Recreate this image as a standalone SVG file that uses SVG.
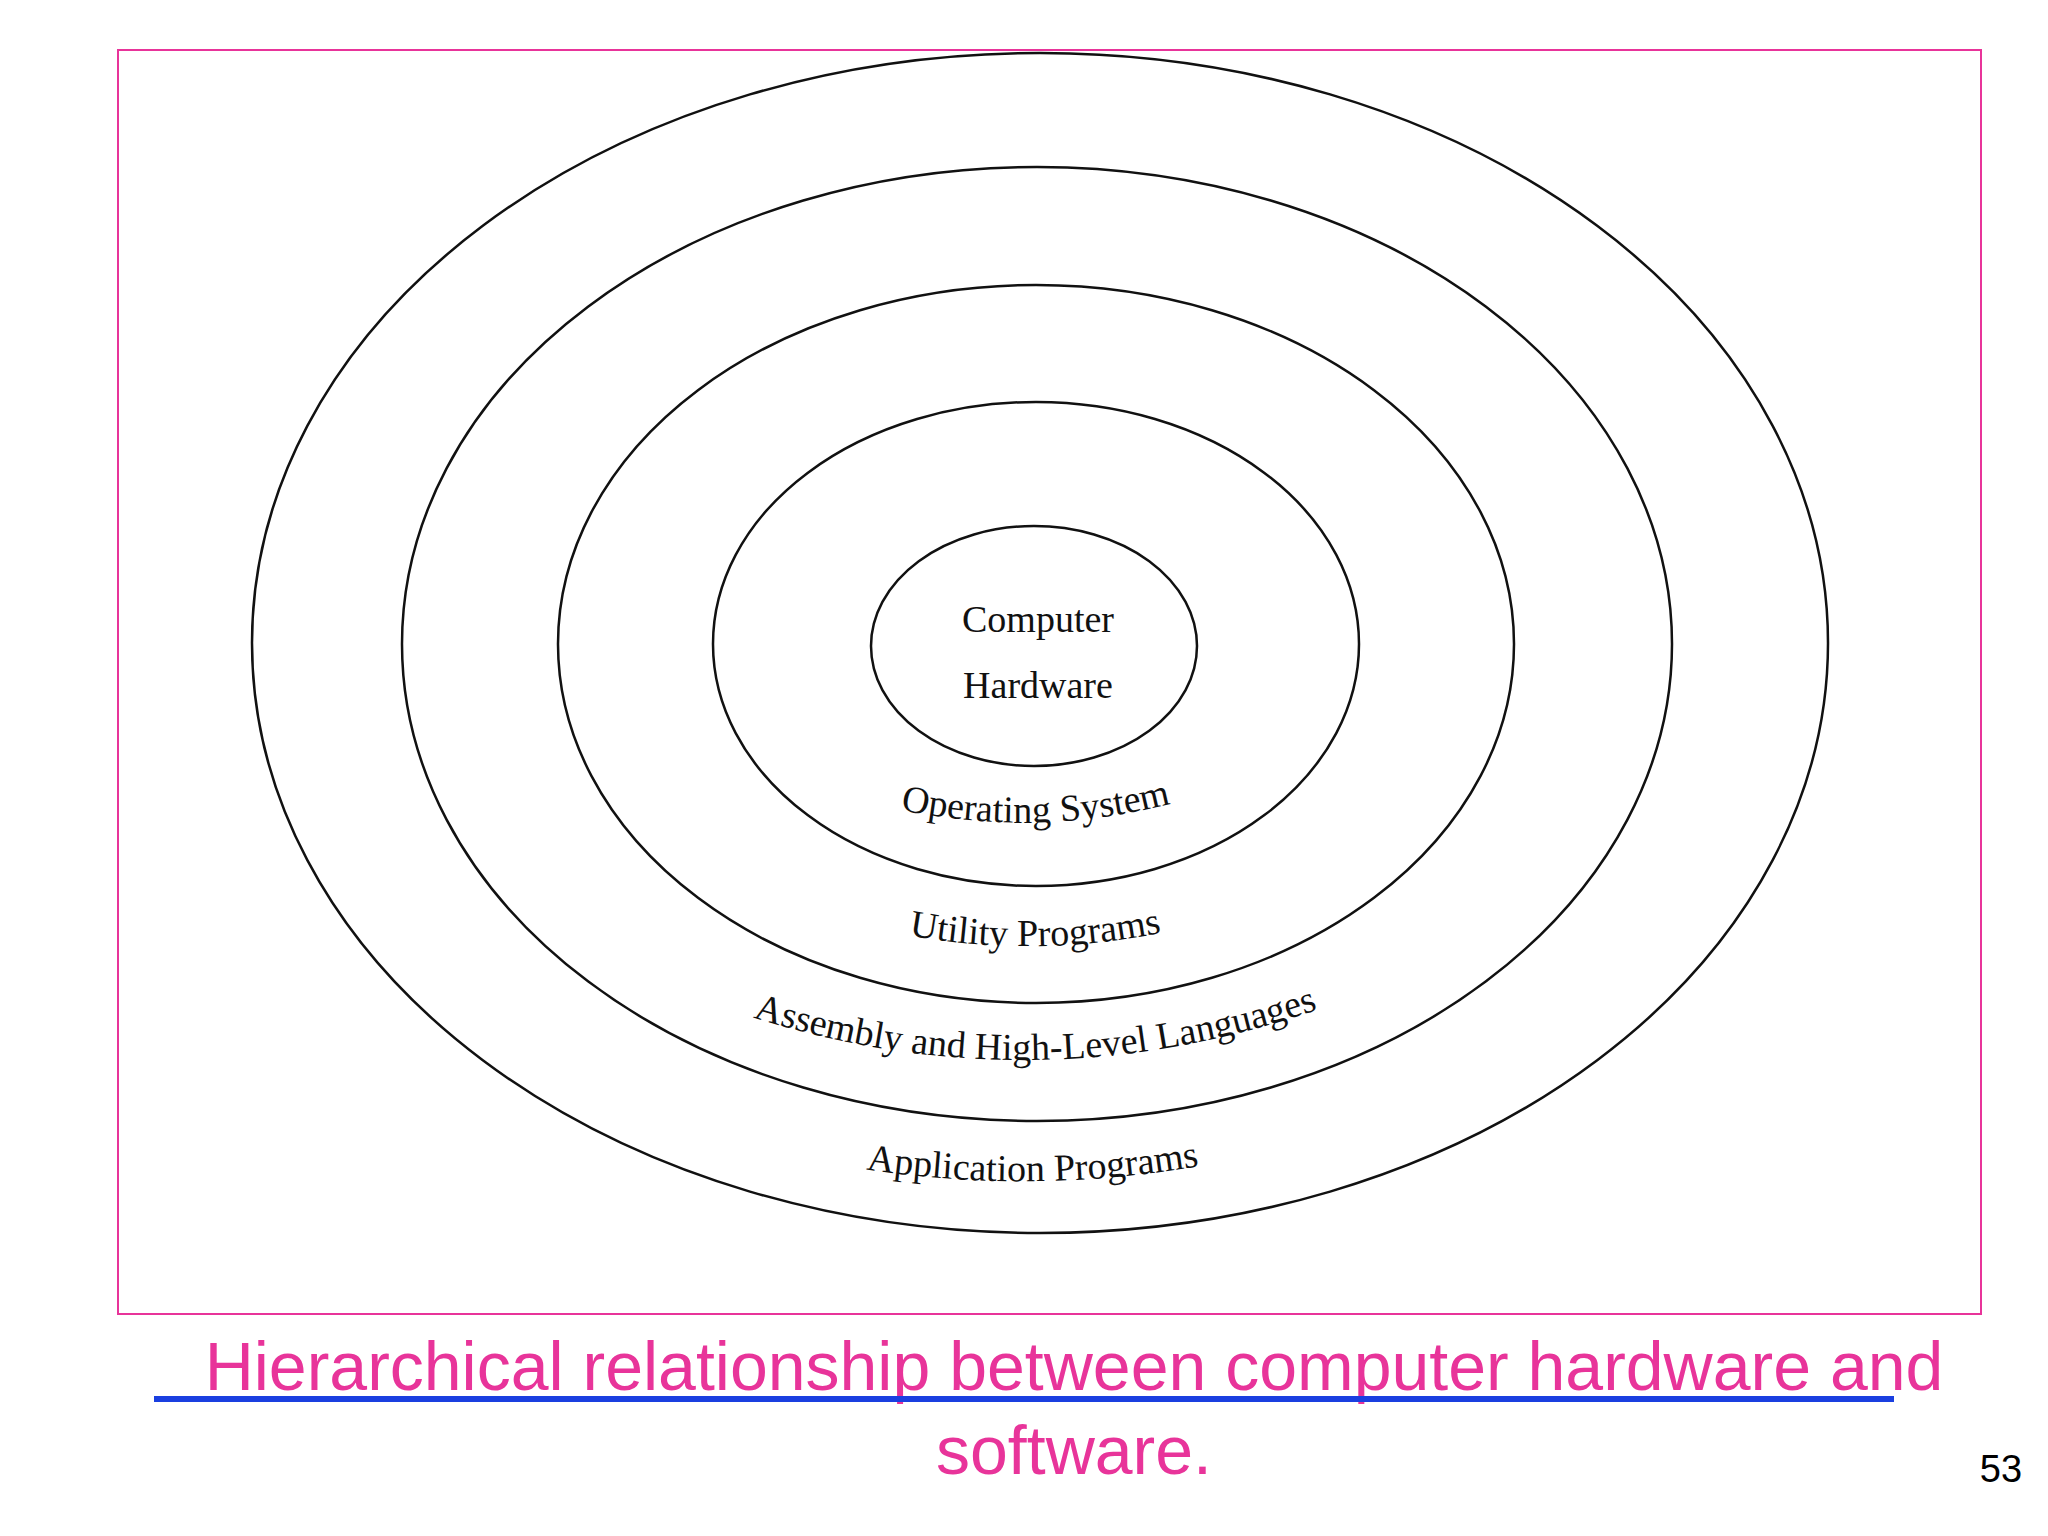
<svg xmlns="http://www.w3.org/2000/svg" width="2048" height="1536" viewBox="0 0 2048 1536">
<style>
.ring{fill:none;stroke:#111;stroke-width:2.5}
.lbl{font-family:"Liberation Serif",serif;font-size:38px;fill:#111;text-anchor:middle}
.cap{font-family:"Liberation Sans",Arial,sans-serif;font-size:68px;fill:#e8349a;text-anchor:middle}
</style>
<defs>
<path id="pOS" d="M 800 780 Q 1035 870 1270 770"/>
<path id="pUT" d="M 810 910 Q 1035 985 1260 905"/>
<path id="pAS" d="M 665 985 Q 1035 1140 1405 975"/>
<path id="pAP" d="M 770 1150 Q 1032 1215 1295 1145"/>
</defs>
<rect width="2048" height="1536" fill="#fff"/>
<rect x="118" y="50" width="1863" height="1264" fill="none" stroke="#e8349a" stroke-width="2"/>
<g id="ring-application"><ellipse class="ring" cx="1040" cy="643" rx="788" ry="590"/></g>
<g id="ring-languages"><ellipse class="ring" cx="1037" cy="644" rx="635" ry="477"/></g>
<g id="ring-utility"><ellipse class="ring" cx="1036" cy="644" rx="478" ry="359"/></g>
<g id="ring-os"><ellipse class="ring" cx="1036" cy="644" rx="323" ry="242"/></g>
<g id="hardware"><ellipse class="ring" cx="1034" cy="646" rx="163" ry="120"/>
<text class="lbl" x="1038" y="632">Computer</text>
<text class="lbl" x="1038" y="698">Hardware</text></g>
<g id="labels">
<text class="lbl"><textPath href="#pOS" startOffset="50%">Operating System</textPath></text>
<text class="lbl"><textPath href="#pUT" startOffset="50%">Utility Programs</textPath></text>
<text class="lbl"><textPath href="#pAS" startOffset="50%">Assembly and High-Level Languages</textPath></text>
<text class="lbl"><textPath href="#pAP" startOffset="50%">Application Programs</textPath></text>
</g>
<g id="caption">
<text class="cap" x="1074" y="1390">Hierarchical relationship between computer hardware and</text>
<rect x="154" y="1396" width="1740" height="6" fill="#1a3fe0"/>
<text class="cap" x="1074" y="1474">software.</text>
<text x="2001" y="1482" font-family="Liberation Sans,Arial,sans-serif" font-size="38" fill="#000" text-anchor="middle">53</text>
</g>
</svg>
